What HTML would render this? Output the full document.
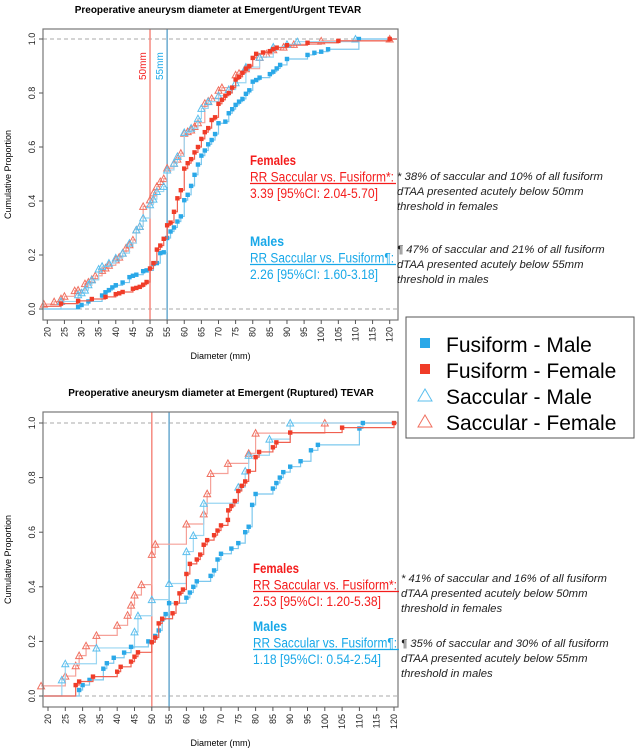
<!DOCTYPE html>
<html><head><meta charset="utf-8">
<style>
html,body{margin:0;padding:0;background:#fff;}
svg{display:block;font-family:"Liberation Sans",sans-serif;}
.note{font-style:italic;font-size:11.3px;fill:#222;}
</style></head>
<body>
<svg id="chart" width="636" height="750" viewBox="0 0 636 750" xmlns="http://www.w3.org/2000/svg">
<g id="top"></g>
<g id="bot"></g>

<text x="218" y="13" text-anchor="middle" font-size="10" font-weight="bold">Preoperative aneurysm diameter at Emergent/Urgent TEVAR</text>
<text x="221" y="396" text-anchor="middle" font-size="10" font-weight="bold">Preoperative aneurysm diameter at Emergent (Ruptured) TEVAR</text>

<text class="note"><tspan x="397" y="180">* 38% of saccular and 10% of all fusiform</tspan><tspan x="397" y="195">dTAA presented acutely below 50mm</tspan><tspan x="397" y="210">threshold in females</tspan></text>
<text class="note"><tspan x="397" y="253">¶ 47% of saccular and 21% of all fusiform</tspan><tspan x="397" y="268">dTAA presented acutely below 55mm</tspan><tspan x="397" y="283">threshold in males</tspan></text>
<text class="note"><tspan x="401" y="582">* 41% of saccular and 16% of all fusiform</tspan><tspan x="401" y="597">dTAA presented acutely below 50mm</tspan><tspan x="401" y="612">threshold in females</tspan></text>
<text class="note"><tspan x="401" y="647">¶ 35% of saccular and 30% of all fusiform</tspan><tspan x="401" y="662">dTAA presented acutely below 55mm</tspan><tspan x="401" y="677">threshold in males</tspan></text>

<g>
<rect x="406" y="317" width="228" height="121" fill="#fff" stroke="#555" stroke-width="1"/>
<g><rect x="420" y="338" width="10" height="10" fill="#2aa8e8"/><text x="446" y="352" font-size="21">Fusiform - Male</text></g>
<g><rect x="420" y="364" width="10" height="10" fill="#f03c28"/><text x="446" y="378" font-size="21">Fusiform - Female</text></g>
<g><path d="M418 401 L425 389 L432 401 Z" fill="none" stroke="#5bbfee" stroke-width="1"/><text x="446" y="404" font-size="21">Saccular - Male</text></g>
<g><path d="M418 427 L425 415 L432 427 Z" fill="none" stroke="#f07060" stroke-width="1"/><text x="446" y="430" font-size="21">Saccular - Female</text></g>
</g>
</svg>
<script>
// ---- Data: top panel (Emergent/Urgent) ----
const topFusFemD=[24,29,33,37,40,41,42,45,46,47,48,49,50,51,52,53,54,55,56,57,58,59,60,61,62,63,64,65,66,67,68,69,70,71,72,73,74,75,76,77,78,79,80,81,83,85,86,87,90,96,105,120];
const topFusFemP=[0.02,0.03,0.037,0.045,0.055,0.058,0.063,0.075,0.078,0.082,0.09,0.10,0.15,0.17,0.22,0.235,0.26,0.31,0.32,0.36,0.41,0.44,0.52,0.54,0.555,0.58,0.60,0.63,0.655,0.67,0.70,0.71,0.76,0.775,0.79,0.80,0.82,0.85,0.86,0.875,0.89,0.90,0.93,0.945,0.95,0.955,0.962,0.968,0.977,0.986,0.993,1.0];
const topFusMaleD=[29,30,32,36,37,38,39,40,42,44,45,46,48,49,51,52,53,54,55,56,57,58,59,60,61,62,63,64,65,66,67,68,69,70,72,73,74,75,76,77,78,79,80,81,82,85,86,87,88,90,96,98,100,102,111];
const topFusMaleP=[0.008,0.015,0.028,0.05,0.062,0.07,0.08,0.088,0.098,0.118,0.123,0.127,0.14,0.143,0.167,0.17,0.207,0.21,0.263,0.287,0.302,0.324,0.343,0.403,0.423,0.456,0.497,0.535,0.568,0.587,0.61,0.626,0.648,0.688,0.694,0.725,0.74,0.756,0.768,0.778,0.797,0.81,0.842,0.848,0.857,0.87,0.879,0.891,0.904,0.926,0.941,0.949,0.953,0.962,1.0];
const topSacFemD=[19,22,24,25,28,29,31,32,33,34,36,37,38,40,41,42,43,44,45,46,47,48,50,51,52,53,54,55,57,58,59,60,61,62,63,64,66,67,68,70,71,75,76,78,82,84,86,89,92,100,120];
const topSacFemP=[0.018,0.027,0.038,0.047,0.068,0.07,0.094,0.10,0.11,0.123,0.143,0.152,0.162,0.182,0.192,0.207,0.226,0.238,0.256,0.293,0.306,0.38,0.404,0.43,0.454,0.472,0.483,0.522,0.54,0.555,0.577,0.651,0.657,0.663,0.676,0.69,0.762,0.77,0.78,0.81,0.82,0.867,0.873,0.89,0.932,0.945,0.96,0.97,0.98,0.993,1.0];
const topSacMaleD=[24,29,30,31,32,33,35,36,38,40,42,44,46,47,48,50,51,52,54,55,57,58,60,62,64,65,67,70,73,75,78,82,86,90,93,110];
const topSacMaleP=[0.028,0.053,0.06,0.07,0.09,0.108,0.148,0.158,0.17,0.189,0.207,0.244,0.293,0.306,0.337,0.386,0.407,0.435,0.454,0.515,0.54,0.565,0.654,0.67,0.705,0.743,0.768,0.79,0.813,0.838,0.896,0.933,0.97,0.98,0.99,1.0];

// ---- Data: bottom panel (Ruptured) ----
const botFusFemD=[28,29,33,40,41,44,45,46,50,51,52,53,56,57,58,59,60,61,63,64,65,66,68,69,70,72,72.1,73,74,75,76,77,78,80,81,85,86,90,105,120];
const botFusFemP=[0.04,0.053,0.071,0.089,0.107,0.126,0.144,0.16,0.197,0.214,0.266,0.283,0.303,0.34,0.376,0.39,0.447,0.484,0.5,0.518,0.554,0.571,0.589,0.606,0.625,0.645,0.68,0.696,0.714,0.751,0.77,0.786,0.823,0.875,0.894,0.911,0.929,0.965,0.983,1.0];
const botFusMaleD=[29,30,32,36,37,39,42,44,49,51,52,53,54,55,60,61,62,63,67,68,69,70,73,75,77,78,79,80,85,86,87,88,90,93,96,98,110,111];
const botFusMaleP=[0.022,0.04,0.059,0.1,0.12,0.14,0.159,0.18,0.2,0.22,0.24,0.28,0.3,0.34,0.36,0.379,0.4,0.42,0.44,0.46,0.5,0.521,0.54,0.56,0.6,0.62,0.7,0.74,0.76,0.78,0.8,0.82,0.84,0.86,0.9,0.92,0.98,1.0];
const botSacFemD=[18,25,28,29,31,34,40,43,44,45,47,50,51,60,65,66,67,72,78,80,100];
const botSacFemP=[0.037,0.073,0.111,0.148,0.184,0.222,0.259,0.296,0.333,0.37,0.408,0.519,0.556,0.63,0.667,0.741,0.815,0.852,0.889,0.963,1.0];
const botSacMaleD=[24,25,34,45,46,50,55,60,62,65,75,77,78,84,90];
const botSacMaleP=[0.059,0.118,0.176,0.235,0.294,0.353,0.412,0.529,0.588,0.706,0.765,0.824,0.882,0.941,1.0];

const xTicks=[20,25,30,35,40,45,50,55,60,65,70,75,80,85,90,95,100,105,110,115,120];
const yTicks=[0,0.2,0.4,0.6,0.8,1.0];

const NS="http://www.w3.org/2000/svg";
function mk(parent,tag,attrs){const e=document.createElementNS(NS,tag);for(const k in attrs)e.setAttribute(k,attrs[k]);parent.appendChild(e);return e;}

function panel(g,cfg){
  const sx=d=>cfg.x20+(d-20)*(cfg.x120-cfg.x20)/100;
  const sy=p=>cfg.y0-p*(cfg.y0-cfg.y1);
  const L=cfg.left,R=cfg.right,T=cfg.top,B=cfg.bottom;
  [0,1].forEach(v=>{const l=mk(g,'line',{x1:L,x2:R,y1:sy(v),y2:sy(v),stroke:'#aaa','stroke-dasharray':'4,3','stroke-width':1});
    
    });
  const v50=mk(g,'line',{x1:sx(50),x2:sx(50),y1:T,y2:B,stroke:'#f58a80','stroke-width':1.5});
  
  
  const v55=mk(g,'line',{x1:sx(55),x2:sx(55),y1:T,y2:B,stroke:'#6aaad0','stroke-width':1.5});
  
  
  cfg.series.forEach(s=>{
    const sg=mk(g,'g',{});
    
    
    let d='M'+(L+1)+' '+sy(s.start);let prev=s.start;
    for(let i=0;i<s.D.length;i++){const x=sx(s.D[i]);d+=' L'+x+' '+sy(prev)+' L'+x+' '+sy(s.P[i]);prev=s.P[i];}
    d+=' L'+(R-1)+' '+sy(prev);
    const path=mk(sg,'path',{d:d,fill:'none',stroke:s.line,'stroke-width':1.2});
    
    
    for(let i=0;i<s.D.length;i++){
      const x=sx(s.D[i]),y=sy(s.P[i]);let m;
      if(s.tri){m=mk(sg,'path',{d:`M${x-3.5} ${y+3} L${x} ${y-3.5} L${x+3.5} ${y+3} Z`,fill:'none',stroke:s.col,'stroke-width':1});}
      else{m=mk(sg,'rect',{x:x-2.2,y:y-2.2,width:4.4,height:4.4,fill:s.col});}
      
      
    }
  });
  const box=mk(g,'rect',{x:L,y:T,width:R-L,height:B-T,fill:'none',stroke:'#777','stroke-width':1.2});
  
  
  xTicks.forEach(t=>{const x=sx(t);mk(g,'line',{x1:x,x2:x,y1:B,y2:B+4,stroke:'#555'});
    const tx=mk(g,'text',{x:0,y:0,'font-size':9,'text-anchor':'end',transform:`translate(${x+3},${B+7}) rotate(-90)`,fill:'#222'});
    tx.textContent=t;
    
    });
  yTicks.forEach(t=>{const y=sy(t);mk(g,'line',{x1:L-4,x2:L,y1:y,y2:y,stroke:'#555'});
    const tx=mk(g,'text',{x:0,y:0,'font-size':9,'text-anchor':'middle',transform:`translate(${L-8},${y}) rotate(-90)`,fill:'#222'});
    tx.textContent=t.toFixed(1);
    
    });
  const yt=mk(g,'text',{x:0,y:0,'font-size':9,'text-anchor':'middle',transform:`translate(11,${(T+B)/2}) rotate(-90)`});
  yt.textContent='Cumulative Proportion';
  
  
  const xt=mk(g,'text',{x:(L+R)/2,y:cfg.xtitleY,'font-size':9,'text-anchor':'middle'});
  xt.textContent='Diameter (mm)';
  
  
  const a=cfg.ann;
  const red='#f41c1c',blue='#18a8e8';
  const lines=[[a.x,a.f,'Females',red,true,46,false],[a.x,a.f+a.g,'RR Saccular vs. Fusiform*:',red,false,144,true],[a.x,a.f+2*a.g,a.fv,red,false,128,false],
    [a.x,a.m,'Males',blue,true,34,false],[a.x,a.m+a.g,'RR Saccular vs. Fusiform¶:',blue,false,144,true],[a.x,a.m+2*a.g,a.mv,blue,false,128,false]];
  lines.forEach(l=>{const t=mk(g,'text',{x:l[0],y:l[1],'font-size':13.5,fill:l[3],'font-weight':l[4]?'bold':'normal'});
    t.setAttribute('textLength',l[5]);t.setAttribute('lengthAdjust','spacingAndGlyphs');
    if(l[6]){mk(g,'line',{x1:l[0],x2:l[0]+l[5]+2,y1:l[1]+2,y2:l[1]+2,stroke:l[3],'stroke-width':1.2});}
    t.textContent=l[2];
    
    });
  if(cfg.mmLabels){
    const t1=mk(g,'text',{x:0,y:0,'font-size':10,fill:red,transform:`translate(${sx(50)-4},80) rotate(-90)`});t1.textContent='50mm';
    
    
    const t2=mk(g,'text',{x:0,y:0,'font-size':10,fill:blue,transform:`translate(${sx(55)-4},80) rotate(-90)`});t2.textContent='55mm';
    
    
  }
}
const cRed='#f03c28',cBlue='#2aa8e8',cSF='#f07060',cSM='#5bbfee';
panel(document.getElementById('top'),{left:43,right:398,top:29,bottom:320,x20:47.3,x120:389.7,y0:309,y1:39,xtitleY:359,mmLabels:true,
  ann:{x:250,f:165,m:246,g:16.5,fv:'3.39 [95%CI: 2.04-5.70]',mv:'2.26 [95%CI: 1.60-3.18]'},
  series:[
   {name:'saccular-female',D:topSacFemD,P:topSacFemP,start:0.01,col:cSF,line:'#f5a098',tri:true},
   {name:'saccular-male',D:topSacMaleD,P:topSacMaleP,start:0,col:cSM,line:'#9ad6f2',tri:true},
   {name:'fusiform-male',D:topFusMaleD,P:topFusMaleP,start:0,col:cBlue,line:'#7cc8ee',tri:false},
   {name:'fusiform-female',D:topFusFemD,P:topFusFemP,start:0.01,col:cRed,line:'#f06050',tri:false}]});
panel(document.getElementById('bot'),{left:43,right:398,top:412,bottom:707,x20:48,x120:394,y0:696,y1:423,xtitleY:746,mmLabels:false,
  ann:{x:253,f:573,m:631,g:16.5,fv:'2.53 [95%CI: 1.20-5.38]',mv:'1.18 [95%CI: 0.54-2.54]'},
  series:[
   {name:'saccular-female',D:botSacFemD,P:botSacFemP,start:0.037,col:cSF,line:'#f5a098',tri:true},
   {name:'saccular-male',D:botSacMaleD,P:botSacMaleP,start:0,col:cSM,line:'#9ad6f2',tri:true},
   {name:'fusiform-male',D:botFusMaleD,P:botFusMaleP,start:0,col:cBlue,line:'#7cc8ee',tri:false},
   {name:'fusiform-female',D:botFusFemD,P:botFusFemP,start:0,col:cRed,line:'#f06050',tri:false}]});
</script>
</body></html>
